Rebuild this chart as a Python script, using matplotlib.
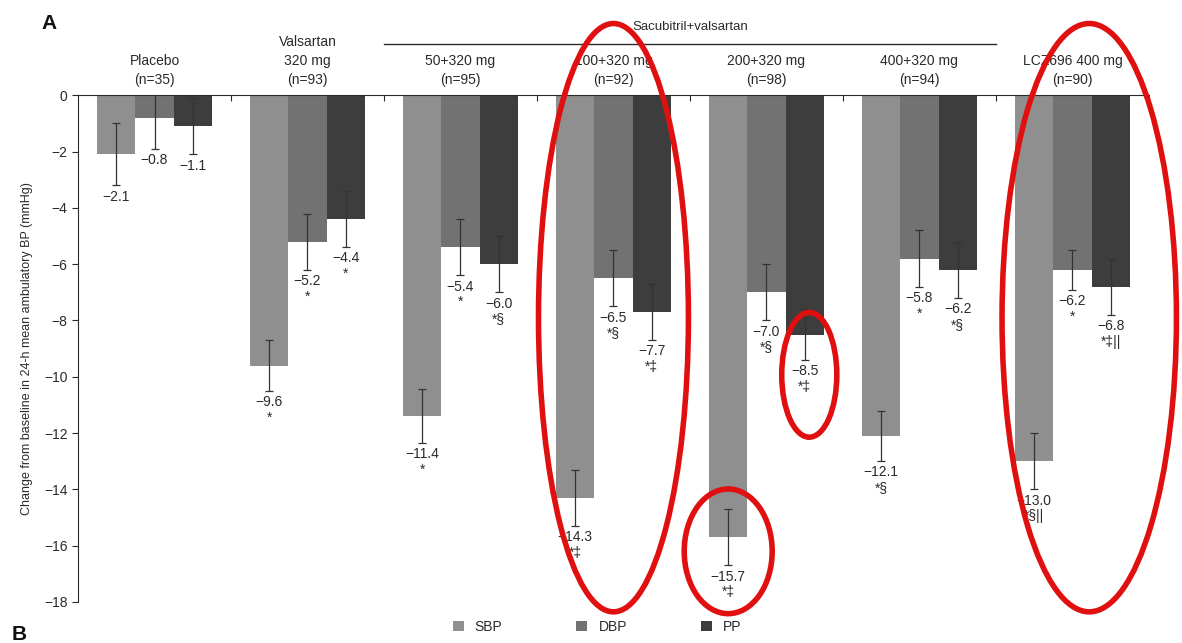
import matplotlib
matplotlib.use("Agg")
import numpy as np
import matplotlib.pyplot as plt
from matplotlib.patches import Ellipse, Patch

plt.rcParams['font.family'] = ['Liberation Sans', 'DejaVu Sans']

# groups and values
groups = ["Placebo\n(n=35)", "Valsartan\n320 mg\n(n=93)", "50+320 mg\n(n=95)",
          "100+320 mg\n(n=92)", "200+320 mg\n(n=98)", "400+320 mg\n(n=94)",
          "LCZ696 400 mg\n(n=90)"]
sbp = [-2.1, -9.6, -11.4, -14.3, -15.7, -12.1, -13.0]
dbp = [-0.8, -5.2, -5.4, -6.5, -7.0, -5.8, -6.2]
pp = [-1.1, -4.4, -6.0, -7.7, -8.5, -6.2, -6.8]
sbp_err = [1.1, 0.9, 0.95, 1.0, 1.0, 0.9, 1.0]
dbp_err = [1.1, 1.0, 1.0, 1.0, 1.0, 1.0, 0.7]
pp_err = [1.0, 1.0, 1.0, 1.0, 0.9, 1.0, 1.0]
sbp_sig = ["", "*", "*", "*‡", "*‡", "*§", "*§||"]
dbp_sig = ["", "*", "*", "*§", "*§", "*", "*"]
pp_sig = ["", "*", "*§", "*‡", "*‡", "*§", "*‡||"]
series = ["SBP", "DBP", "PP"]
colors = ["#8f8f8f", "#727272", "#3d3d3d"]

fig = plt.figure(figsize=(11.82, 6.43), dpi=100)
ax = fig.add_axes([0.066, 0.0638, 0.906, 0.788])

x = np.arange(len(groups))
w = 0.25
txt = "#2a2a2a"
for i, (vals, errs, sigs) in enumerate([(sbp, sbp_err, sbp_sig),
                                        (dbp, dbp_err, dbp_sig),
                                        (pp, pp_err, pp_sig)]):
    xs = x + (i - 1) * w
    ax.bar(xs, vals, width=w, color=colors[i], zorder=2)
    ax.errorbar(xs, vals, yerr=errs, fmt='none', ecolor="#333333",
                elinewidth=0.9, capsize=3, capthick=0.9, zorder=3)
    for xi, v, e, s in zip(xs, vals, errs, sigs):
        label = ("%.1f" % v).replace("-", "\u2212")
        if s:
            label += "\n" + s
        ax.annotate(label, (xi, v - e), xytext=(0, -3), textcoords='offset points',
                    ha='center', va='top', fontsize=10, color=txt,
                    linespacing=1.15)

ax.set_xlim(-0.5, len(groups) - 0.5)
ax.set_ylim(-18, 0)
ax.set_yticks(np.arange(-18, 1, 2))
ax.set_yticklabels([str(t).replace("-", "\u2212") for t in range(-18, 1, 2)],
                   fontsize=10, color=txt)
ax.tick_params(axis='y', length=4, color=txt)
ax.set_xticks(np.arange(0.5, len(groups), 1.0))
ax.xaxis.set_ticks_position('top')
ax.tick_params(axis='x', direction='in', length=4, labeltop=False,
               labelbottom=False, color=txt)
ax.spines['right'].set_visible(False)
ax.spines['bottom'].set_visible(False)
ax.spines['top'].set_color(txt)
ax.spines['left'].set_color(txt)
ax.set_ylabel("Change from baseline in 24-h mean ambulatory BP (mmHg)",
              fontsize=9, color=txt, labelpad=8)

# group headers
for xi, g in zip(x, groups):
    ax.text(xi, 0.3, g, ha='center', va='bottom', fontsize=10, color=txt,
            linespacing=1.45)
ax.plot([1.5, 5.5], [1.81, 1.81], color=txt, lw=1.0, clip_on=False)
ax.text(3.5, 2.2, "Sacubitril+valsartan", ha='center', va='bottom',
        fontsize=9.5, color=txt)

# red hand-drawn ellipses
for cx, cy, ew, eh in [(3.0, -7.9, 0.98, 20.9), (3.75, -16.2, 0.575, 4.43),
                       (4.28, -9.93, 0.36, 4.43), (6.11, -7.9, 1.14, 20.9)]:
    ax.add_patch(Ellipse((cx, cy), ew, eh, fill=False, edgecolor="#e01010",
                         lw=4, clip_on=False, zorder=5))

handles = [Patch(facecolor=c, edgecolor='none') for c in colors]
fig.legend(handles, series, loc='lower center', bbox_to_anchor=(0.505, -0.005),
           ncol=3, frameon=False, fontsize=10, handlelength=0.8,
           handleheight=0.8, columnspacing=5.3, labelcolor=txt)

fig.text(0.035, 0.955, "A", fontsize=15, fontweight='bold', color="#111111")
fig.text(0.010, 0.005, "B", fontsize=15, fontweight='bold', color="#111111")

fig.savefig("out.png", dpi=100)
